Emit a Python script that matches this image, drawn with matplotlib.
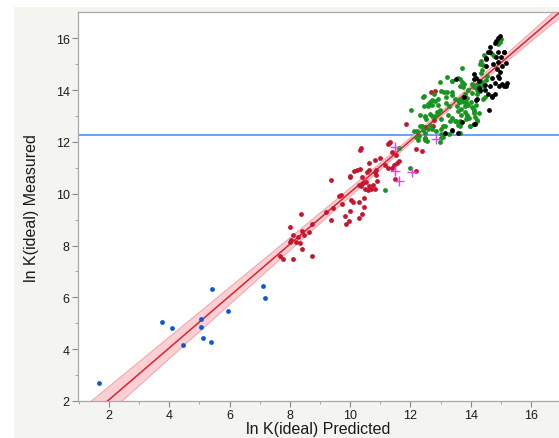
import matplotlib
matplotlib.use("Agg")
import matplotlib.pyplot as plt
import numpy as np
from matplotlib.patches import Rectangle

plt.rcParams["font.family"] = ["Liberation Sans", "DejaVu Sans"]

# ---- data ----
blue_x = [1.67, 3.77, 4.09, 4.47, 5.06, 5.06, 5.12, 5.38, 5.41, 5.94, 7.11, 7.19]
blue_y = [2.71, 5.06, 4.82, 4.16, 5.18, 4.85, 4.42, 4.29, 6.31, 5.46, 6.42, 5.97]

red_pts = [
    (9.36, 10.51), (10.0, 10.67), (9.64, 9.92), (9.69, 9.96), (10.02, 9.75),
    (9.73, 9.62), (9.44, 9.43), (9.2, 9.28), (9.36, 8.98), (9.84, 9.15),
    (9.98, 9.34), (9.96, 8.95), (9.87, 8.84), (8.37, 9.21), (8.0, 8.72),
    (8.72, 8.84), (8.4, 8.57), (8.64, 8.51), (8.09, 8.42), (8.28, 8.33),
    (8.48, 8.42), (8.03, 8.2), (8.0, 8.14), (8.2, 8.14), (8.33, 8.1),
    (8.4, 7.87), (7.67, 7.6), (7.78, 7.49), (8.12, 7.47), (8.72, 7.6),
    (10.31, 9.07), (10.39, 9.2), (10.45, 9.5), (10.3, 9.69), (10.1, 9.67),
    (11.85, 12.7), (11.28, 11.94), (11.32, 11.98), (11.24, 11.9), (10.37, 11.75),
    (10.33, 11.67), (11.4, 11.59), (10.99, 11.37), (10.81, 11.31), (10.64, 11.2),
    (11.53, 11.49), (11.62, 11.27), (11.56, 11.2), (11.46, 11.1), (11.39, 10.99),
    (11.17, 11.11), (11.24, 11.01), (10.14, 10.87), (10.23, 10.91), (10.34, 10.95),
    (10.64, 10.9), (10.56, 10.82), (10.87, 10.92), (10.81, 10.82), (10.86, 10.74),
    (10.01, 10.64), (10.39, 10.63), (10.9, 10.5), (10.53, 10.46), (10.42, 10.4),
    (10.29, 10.33), (10.37, 10.28), (10.76, 10.33), (10.62, 10.3), (10.7, 10.18),
    (10.83, 10.2), (10.59, 10.15), (10.48, 10.18), (11.5, 10.56), (12.18, 10.88),
    (12.17, 11.72), (12.37, 11.65), (10.45, 9.84),
    (12.68, 13.91), (12.83, 13.98), (12.79, 12.85), (12.74, 12.62), (12.5, 12.59),
    (12.26, 12.26), (12.48, 12.13),
]

green_pts = [
    (11.62, 11.75), (11.97, 11.01), (11.14, 10.14), (12.03, 13.22), (12.32, 13.03),
    (12.49, 12.97), (12.39, 12.62), (12.12, 12.41), (12.22, 12.41), (12.41, 12.45),
    (12.2, 12.19), (12.26, 12.08), (12.48, 12.14), (12.54, 12.05), (12.59, 12.49),
    (12.46, 13.37), (12.59, 13.45),
    (15.0, 15.96), (14.96, 15.86), (14.9, 15.77), (14.43, 15.34), (14.7, 15.39),
    (14.76, 15.32), (14.34, 15.11), (14.31, 15.01), (14.4, 14.96), (13.72, 14.85),
    (14.34, 14.64), (14.39, 14.78), (13.23, 14.52), (13.39, 14.35), (13.59, 14.47),
    (12.99, 14.31), (13.7, 14.31), (13.77, 14.23), (14.54, 14.55), (14.5, 14.39),
    (14.31, 14.34), (14.39, 14.31), (14.23, 14.24), (14.06, 14.21), (14.41, 14.16),
    (14.21, 14.06),
    (13.64, 14.16), (13.76, 14.11), (14.03, 14.24), (14.12, 14.11), (12.46, 13.78),
    (12.79, 13.85), (12.92, 13.67), (12.81, 13.58), (12.66, 13.52), (12.72, 13.44),
    (12.57, 13.37), (13.12, 13.91), (13.19, 13.75), (13.37, 13.93), (13.37, 13.8),
    (13.48, 13.67), (13.57, 13.62), (13.64, 13.52), (13.81, 13.85), (13.88, 13.7),
    (13.79, 13.52), (13.81, 13.39), (14.01, 13.52), (14.17, 13.44), (14.08, 13.31),
    (14.1, 13.18), (14.26, 13.13), (13.88, 12.98), (13.83, 12.88), (13.99, 12.62),
    (14.21, 12.8), (13.68, 13.03), (13.57, 13.18), (12.5, 12.98), (12.66, 13.08),
    (12.83, 13.0), (12.9, 13.13), (13.01, 12.88), (13.26, 13.03), (13.3, 12.8),
    (13.48, 12.8), (13.61, 12.77), (12.32, 12.62), (12.48, 12.36), (12.28, 12.23),
    (13.03, 12.3), (13.03, 12.16), (13.63, 12.36), (13.09, 12.62),
    (13.39, 14.34), (13.65, 14.42), (12.7, 13.6), (13.9, 14.01), (14.05, 13.88),
    (14.2, 14.01), (14.28, 14.16),
    (12.5, 12.08), (12.99, 12.0), (13.08, 12.17), (13.28, 12.3), (13.37, 12.43),
    (13.57, 12.65), (13.65, 12.6), (13.97, 12.6), (14.14, 12.95), (14.2, 12.86),
    (14.03, 13.33), (14.12, 13.24), (14.1, 13.13), (14.42, 13.65), (14.48, 13.75),
    (14.31, 13.97), (14.21, 13.84), (12.42, 13.75), (12.92, 13.44), (12.53, 12.88),
    (12.73, 13.0), (12.99, 13.24), (12.88, 13.16), (13.19, 13.5), (13.28, 13.37),
    (13.03, 13.97), (13.2, 13.91), (13.61, 13.54), (13.7, 13.65), (13.54, 13.37),
    (13.68, 13.27), (13.83, 13.52), (13.9, 13.42), (13.81, 13.16), (13.88, 13.03),
    (13.94, 12.94), (13.37, 12.92), (13.5, 12.81), (13.64, 12.8), (13.14, 12.6),
    (13.01, 12.49), (12.86, 12.43), (12.7, 12.49), (12.64, 12.65),
]

black_pts = [
    (14.96, 16.09), (14.91, 15.99), (14.84, 15.9), (14.8, 15.81), (14.63, 15.68),
    (14.9, 15.47), (15.1, 15.47), (14.56, 15.47), (14.52, 15.22), (14.83, 15.26),
    (15.0, 15.27), (14.74, 15.01), (14.92, 15.09), (15.17, 15.06), (14.5, 14.91),
    (14.87, 14.83), (15.03, 14.91), (14.97, 14.68), (14.9, 14.55), (14.1, 14.6),
    (14.17, 14.48), (14.1, 14.42), (13.52, 14.42), (14.7, 14.48), (14.94, 14.45),
    (15.03, 14.23), (14.79, 14.29), (14.64, 14.16), (15.17, 14.14), (14.28, 14.08),
    (14.28, 14.35), (14.46, 14.21), (14.94, 14.16), (15.09, 14.16), (15.21, 14.26),
    (14.3, 14.01), (14.48, 14.01), (14.57, 13.83), (14.72, 13.78), (14.81, 13.85),
    (13.79, 13.75), (14.17, 13.62), (14.61, 13.23), (14.12, 12.7), (13.7, 12.78),
    (13.14, 12.36), (13.37, 12.44), (14.5, 15.19), (14.63, 15.45), (15.09, 15.45),
    (14.72, 13.75), (14.2, 13.65), (14.14, 12.68), (13.59, 12.36),
]

plus_x = [11.48, 11.5, 11.62, 12.06, 12.86]
plus_y = [11.82, 10.87, 10.48, 10.82, 12.1]

# reference line (mean of measured) and fitted line with confidence band
mean_level = 12.25
fit_intercept = 0.05
fit_slope = 1.0
band_center = 12.8
band_min = 0.10
band_spread = 0.046

# ---- figure ----
fig = plt.figure(figsize=(5.59, 4.39), dpi=100, facecolor="white")
fig.patches.append(Rectangle((14 / 559, 0), 1, (439 - 8) / 439,
                             transform=fig.transFigure, facecolor="#f4f4f0",
                             edgecolor="none", zorder=-10))
ax = fig.add_axes((78 / 559, 37 / 439, 1 - 78 / 559, (402 - 13.3) / 439))
ax.set_facecolor("white")

ax.axhline(mean_level, color="#3f86f2", lw=1.1, zorder=1)

xs = np.linspace(0.5, 17.5, 200)
fit = fit_intercept + fit_slope * xs
hw = np.sqrt(band_min ** 2 + (band_spread * (xs - band_center)) ** 2)
ax.fill_between(xs, fit - hw, fit + hw, color="#fbd0d4", lw=0, zorder=2)
ax.plot(xs, fit - hw, color="#f3a0a8", lw=0.7, zorder=2)
ax.plot(xs, fit + hw, color="#f3a0a8", lw=0.7, zorder=2)
ax.plot(xs, fit, color="#e41f2b", lw=1.1, zorder=3)

dot = dict(s=12, linewidths=0, zorder=4)
rx, ry = zip(*red_pts)
gx, gy = zip(*green_pts)
kx, ky = zip(*black_pts)
ax.scatter(blue_x, blue_y, color="#0a5ad6", **dot)
ax.scatter(rx, ry, color="#c8142c", **dot)
ax.scatter(gx, gy, color="#17951f", **dot)
ax.scatter(kx, ky, color="#000000", **dot)
ax.scatter(plus_x, plus_y, marker="+", s=45, color="#f23cf2", linewidths=1.0,
           zorder=5)

ax.set_xlim(0.97, 16.93)
ax.set_ylim(2, 17)
ax.set_xticks([2, 4, 6, 8, 10, 12, 14, 16])
ax.set_yticks([2, 4, 6, 8, 10, 12, 14, 16])
ax.set_xticks(np.arange(1, 17, 2), minor=True)
ax.set_yticks(np.arange(3, 17, 2), minor=True)
ax.tick_params(which="major", length=4, width=0.8, color="#8a8a8a",
               labelsize=9, labelcolor="#1a1a1a", pad=2)
ax.tick_params(which="minor", length=2, width=0.6, color="#9a9a9a")

for side in ("left", "bottom", "top"):
    ax.spines[side].set_color("#a8a8a8")
    ax.spines[side].set_linewidth(0.9)
ax.spines["right"].set_visible(False)

ax.set_xlabel("ln K(ideal) Predicted", fontsize=11.5, color="#1a1a1a", labelpad=0)
ax.set_ylabel("ln K(ideal) Measured", fontsize=11.5, color="#1a1a1a", labelpad=12)

fig.savefig("out.png", dpi=100, facecolor=fig.get_facecolor())
